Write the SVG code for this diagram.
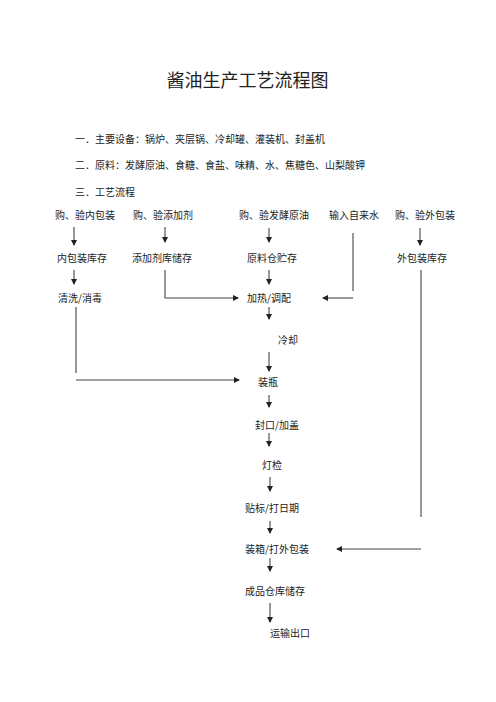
<svg xmlns="http://www.w3.org/2000/svg" width="496" height="702" viewBox="0 0 496 702">
<style>
text{font-family:"Noto Sans CJK SC","Noto Sans",sans-serif;fill:#222;font-size:10px}
.t{font-size:18px}
.c{stroke:#444;stroke-width:1.1;fill:none}
</style>
<defs>
<marker id="ah" markerWidth="6" markerHeight="6" refX="5" refY="3" orient="auto" markerUnits="userSpaceOnUse">
<path d="M0,0 L6,3 L0,6 Z" fill="#222"/>
</marker>
</defs>
<rect width="496" height="702" fill="#fff"/>
<g id="header">
<text class="t" x="247.5" y="87" text-anchor="middle">酱油生产工艺流程图</text>
<text x="75" y="143">一．主要设备：锅炉、夹层锅、冷却罐、灌装机、封盖机</text>
<text x="75" y="169">二．原料：发酵原油、食糖、食盐、味精、水、焦糖色、山梨酸钾</text>
<text x="75" y="196">三．工艺流程</text>
</g>
<g id="n1"><text x="55" y="219">购、验内包装</text></g>
<g id="n2"><text x="133" y="219">购、验添加剂</text></g>
<g id="n3"><text x="239" y="219">购、验发酵原油</text></g>
<g id="n4"><text x="329" y="219">输入自来水</text></g>
<g id="n5"><text x="395" y="219">购、验外包装</text></g>
<g id="n6"><text x="57" y="262">内包装库存</text></g>
<g id="n7"><text x="132" y="262">添加剂库储存</text></g>
<g id="n8"><text x="247" y="262">原料仓贮存</text></g>
<g id="n9"><text x="397" y="262">外包装库存</text></g>
<g id="n10"><text x="58" y="302">清洗/消毒</text></g>
<g id="n11"><text x="247" y="302">加热/调配</text></g>
<g id="n12"><text x="278" y="344">冷却</text></g>
<g id="n13"><text x="258" y="386">装瓶</text></g>
<g id="n14"><text x="255" y="429">封口/加盖</text></g>
<g id="n15"><text x="262" y="469">灯检</text></g>
<g id="n16"><text x="245" y="512">贴标/打日期</text></g>
<g id="n17"><text x="245" y="553">装箱/打外包装</text></g>
<g id="n18"><text x="245" y="595">成品仓库储存</text></g>
<g id="n19"><text x="270" y="637">运输出口</text></g>
<g id="connectors">
<path class="c" d="M74,227 V245" marker-end="url(#ah)"/>
<path class="c" d="M165,227 V242" marker-end="url(#ah)"/>
<path class="c" d="M269,228 V242" marker-end="url(#ah)"/>
<path class="c" d="M420,228 V245" marker-end="url(#ah)"/>
<path class="c" d="M74,270 V284" marker-end="url(#ah)"/>
<path class="c" d="M269,270 V284" marker-end="url(#ah)"/>
<path class="c" d="M165,270 V298 H238" marker-end="url(#ah)"/>
<path class="c" d="M353,233 V291"/>
<path class="c" d="M353,298 H323" marker-end="url(#ah)"/>
<path class="c" d="M269,307 V319" marker-end="url(#ah)"/>
<path class="c" d="M76,307 V373"/>
<path class="c" d="M76,380 H239" marker-end="url(#ah)"/>
<path class="c" d="M269,352 V371" marker-end="url(#ah)"/>
<path class="c" d="M269,395 V407" marker-end="url(#ah)"/>
<path class="c" d="M269,433 V446" marker-end="url(#ah)"/>
<path class="c" d="M270,477 V491" marker-end="url(#ah)"/>
<path class="c" d="M270,521 V533" marker-end="url(#ah)"/>
<path class="c" d="M270,558 V571" marker-end="url(#ah)"/>
<path class="c" d="M270,603 V622" marker-end="url(#ah)"/>
<path class="c" d="M421,270 V517"/>
<path class="c" d="M421,549 H337" marker-end="url(#ah)"/>
</g>
</svg>
